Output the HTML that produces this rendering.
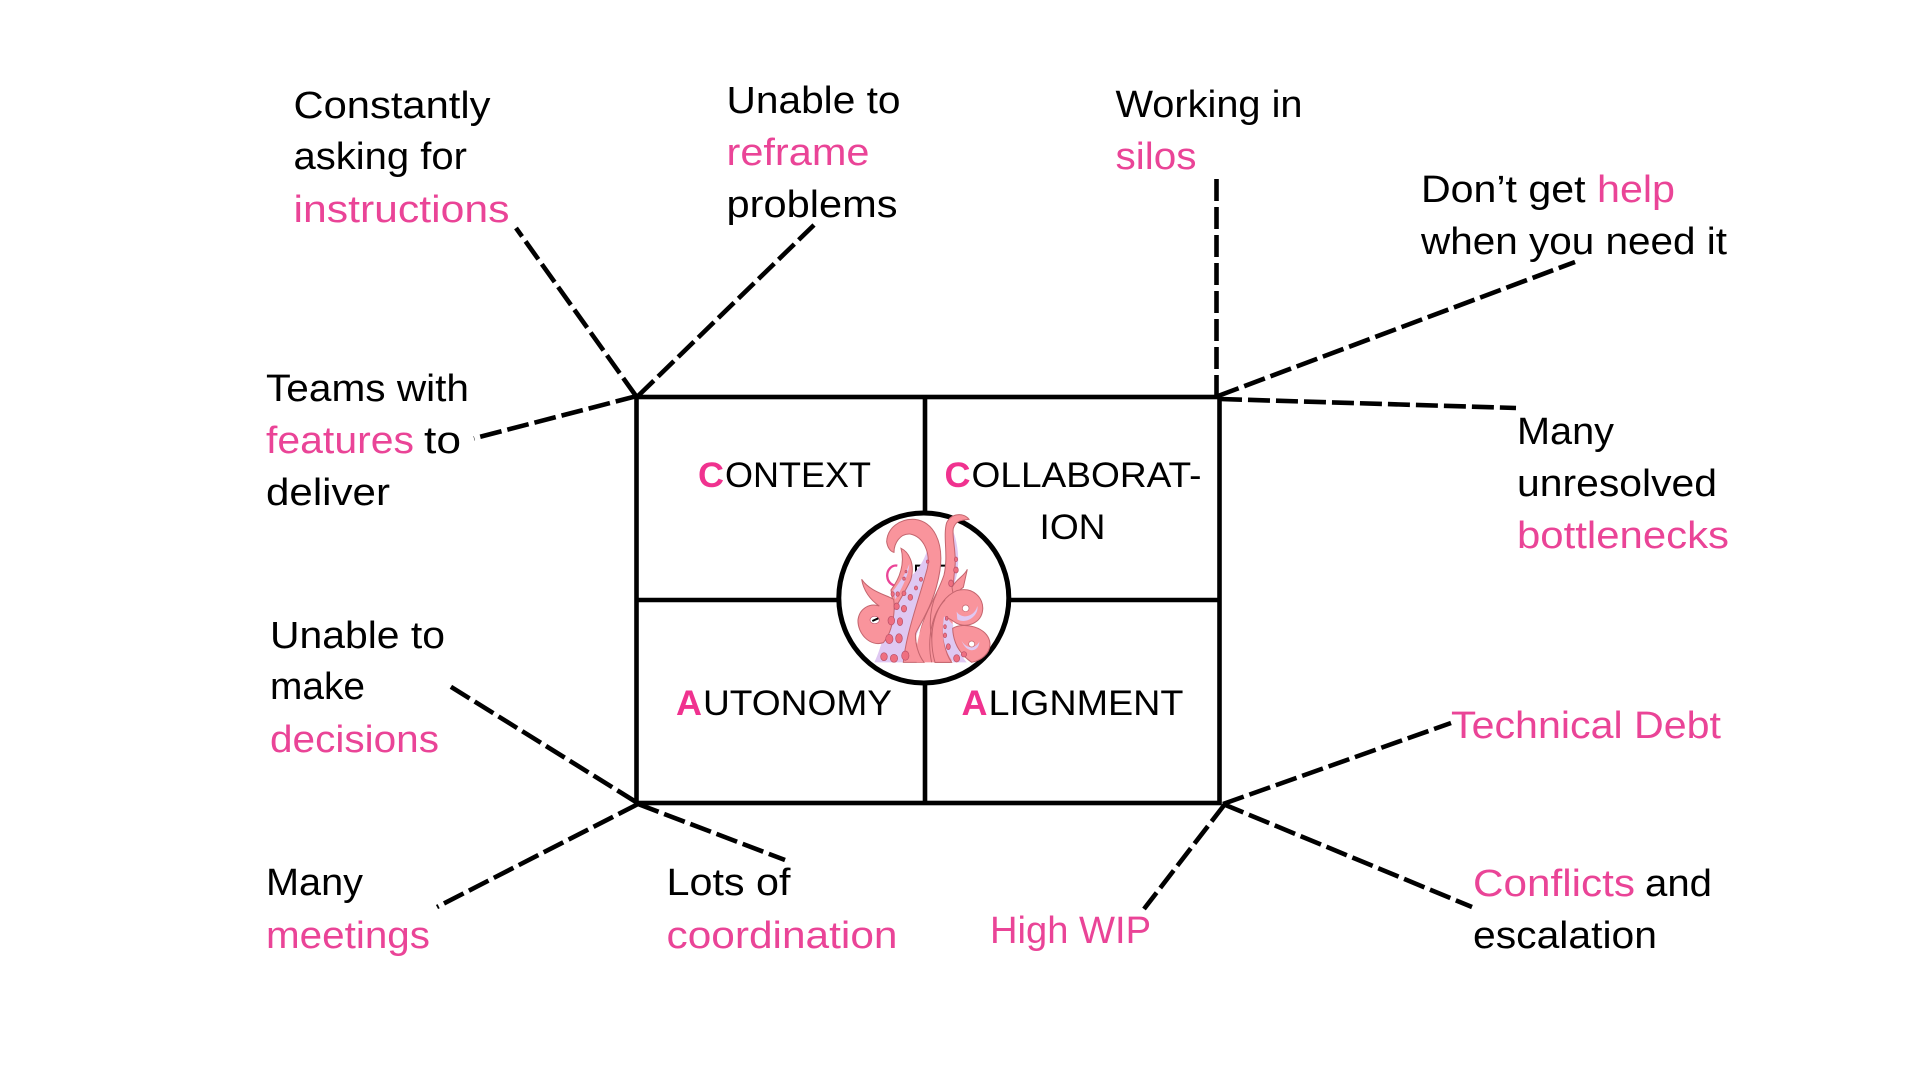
<!DOCTYPE html>
<html><head><meta charset="utf-8"><title>Diagram</title>
<style>
html,body{margin:0;padding:0;background:#fff;width:1920px;height:1080px;overflow:hidden}
svg{display:block}
text{font-family:"Liberation Sans",sans-serif;font-size:38px;fill:#000}
.p{fill:#ea4497}
.h{font-size:35px}
.b{font-size:35px;font-weight:bold;fill:#f0328f}
.d{stroke:#000;stroke-width:4.6;stroke-dasharray:22 6;fill:none}
.s{stroke:#000;stroke-width:4.6;fill:none}
.o{fill:#f9949c;stroke:#c4656e;stroke-width:3}
.l{fill:#dfc8f2;stroke:none}
.c{fill:#ef6f80;stroke:#b84f68;stroke-width:2}
.k{fill:none;stroke:#c4656e;stroke-width:3}
</style></head><body>
<svg width="1920" height="1080" viewBox="0 0 1920 1080" xmlns="http://www.w3.org/2000/svg">
<rect width="1920" height="1080" fill="#fff"/>

<!-- connectors -->
<path class="d" d="M636 396L516 228"/>
<path class="d" d="M638 396L814 225"/>
<path class="d" d="M637 396L474 438.4"/>
<path class="d" d="M1216.5 397L1216.5 177"/>
<path class="d" d="M1218 396L1575 262"/>
<path class="d" d="M1220 399L1516 408"/>
<path class="d" d="M636 802L448 685"/>
<path class="d" d="M638 804L437 907"/>
<path class="d" d="M638 804L785 860"/>
<path class="d" d="M1223 804L1451 723"/>
<path class="d" d="M1223 804L1472 907"/>
<path class="d" d="M1225 804L1144 909"/>

<!-- grid -->
<rect class="s" x="636.5" y="397" width="583" height="406"/>
<path class="s" d="M925 397V803M636.5 600H1219.5"/>

<!-- headings -->
<text class="b" x="698" y="487" textLength="26" lengthAdjust="spacingAndGlyphs">C</text>
<text class="h" x="725" y="487" textLength="146" lengthAdjust="spacingAndGlyphs">ONTEXT</text>
<text class="b" x="944.5" y="487" textLength="26" lengthAdjust="spacingAndGlyphs">C</text>
<text class="h" x="971.5" y="487" textLength="230" lengthAdjust="spacingAndGlyphs">OLLABORAT-</text>
<text class="h" x="1039.5" y="539" textLength="66" lengthAdjust="spacingAndGlyphs">ION</text>
<text class="b" x="676" y="715" textLength="26" lengthAdjust="spacingAndGlyphs">A</text>
<text class="h" x="703" y="715" textLength="189" lengthAdjust="spacingAndGlyphs">UTONOMY</text>
<text class="b" x="961.5" y="715" textLength="26" lengthAdjust="spacingAndGlyphs">A</text>
<text class="h" x="988.5" y="715" textLength="195" lengthAdjust="spacingAndGlyphs">LIGNMENT</text>

<!-- labels -->
<text x="293.5" y="118" textLength="197" lengthAdjust="spacingAndGlyphs">Constantly</text>
<text x="293.5" y="169" textLength="173.5" lengthAdjust="spacingAndGlyphs">asking for</text>
<text class="p" x="293.5" y="222" textLength="216" lengthAdjust="spacingAndGlyphs">instructions</text>
<text x="726.5" y="113" textLength="174" lengthAdjust="spacingAndGlyphs">Unable to</text>
<text class="p" x="726.5" y="165" textLength="143" lengthAdjust="spacingAndGlyphs">reframe</text>
<text x="726.5" y="217" textLength="171" lengthAdjust="spacingAndGlyphs">problems</text>
<text x="266" y="401" textLength="203" lengthAdjust="spacingAndGlyphs">Teams with</text>
<text class="p" x="266" y="453" textLength="148" lengthAdjust="spacingAndGlyphs">features</text>
<text x="424" y="453" textLength="37" lengthAdjust="spacingAndGlyphs">to</text>
<text x="266" y="505" textLength="124" lengthAdjust="spacingAndGlyphs">deliver</text>
<text x="1115.5" y="117" textLength="187" lengthAdjust="spacingAndGlyphs">Working in</text>
<text class="p" x="1115.5" y="169" textLength="81" lengthAdjust="spacingAndGlyphs">silos</text>
<text x="1421" y="202" textLength="164.5" lengthAdjust="spacingAndGlyphs">Don’t get</text>
<text class="p" x="1597" y="202" textLength="78" lengthAdjust="spacingAndGlyphs">help</text>
<text x="1421" y="254" textLength="306" lengthAdjust="spacingAndGlyphs">when you need it</text>
<text x="1517" y="444" textLength="97" lengthAdjust="spacingAndGlyphs">Many</text>
<text x="1517" y="496" textLength="200" lengthAdjust="spacingAndGlyphs">unresolved</text>
<text class="p" x="1517" y="548" textLength="212" lengthAdjust="spacingAndGlyphs">bottlenecks</text>
<text x="270" y="648" textLength="175" lengthAdjust="spacingAndGlyphs">Unable to</text>
<text x="270" y="699" textLength="95" lengthAdjust="spacingAndGlyphs">make</text>
<text class="p" x="270" y="752" textLength="169" lengthAdjust="spacingAndGlyphs">decisions</text>
<text x="266" y="895" textLength="97" lengthAdjust="spacingAndGlyphs">Many</text>
<text class="p" x="266" y="948" textLength="164" lengthAdjust="spacingAndGlyphs">meetings</text>
<text x="666.5" y="895" textLength="124" lengthAdjust="spacingAndGlyphs">Lots of</text>
<text class="p" x="666.5" y="948" textLength="231" lengthAdjust="spacingAndGlyphs">coordination</text>
<text class="p" x="1451" y="738" textLength="270" lengthAdjust="spacingAndGlyphs">Technical Debt</text>
<text class="p" x="1473" y="896" textLength="162" lengthAdjust="spacingAndGlyphs">Conflicts</text>
<text x="1645" y="896" textLength="67" lengthAdjust="spacingAndGlyphs">and</text>
<text x="1473" y="948" textLength="184" lengthAdjust="spacingAndGlyphs">escalation</text>
<text class="p" x="990" y="943" textLength="161" lengthAdjust="spacingAndGlyphs">High WIP</text>

<!-- centre circle -->
<circle cx="923.8" cy="598" r="85" fill="#fff" stroke="#000" stroke-width="5"/>
<g transform="translate(820,500) scale(.3333)">
  <path d="M232 197a26 30 0 1 0 4 58" fill="none" stroke="#ea4497" stroke-width="7"/>
  <path d="M285 197H375M288 197V235" fill="none" stroke="#000" stroke-width="6"/>
  <!-- lavender panel left -->
  <path class="l" d="M163 487C195 420 205 330 222 280C255 240 300 220 322 150L362 210C345 310 280 400 262 487Z"/>
  <path class="o" d="M243 145C265 155 287 190 272 240C258 270 240 300 222 330L213 270C240 235 255 190 243 145Z"/>
  <path class="l" d="M268 192C266 225 246 265 226 298L220 272C240 245 258 220 268 192Z"/>
  <!-- tall right arm -->
  <path class="l" d="M398 90C415 130 420 190 408 235L395 275L372 250Z"/>
  <path class="o" d="M447 58C432 38 395 38 380 68C368 110 386 165 372 225C350 290 312 340 300 400L345 487H390L400 270C400 240 402 230 405 200C410 160 395 110 400 85C408 60 428 60 447 58Z"/>
  <path class="o" d="M442 208C432 230 410 235 396 262L400 285L430 262Z"/>
  <!-- main arm -->
  <path class="o" d="M250 487C258 400 298 295 322 205C332 160 312 110 270 102C240 100 222 130 222 157C210 155 202 140 200 125C202 85 238 55 285 58C340 65 372 125 360 210C345 310 300 370 287 400C285 430 295 465 312 487Z"/>
  <!-- body -->
  <path d="M290 487C280 420 320 330 370 250L400 290L395 487Z" fill="#f9949c"/>
  <path class="k" d="M287 400C285 430 295 465 312 487M350 280C322 340 322 430 370 487"/>
  <!-- left curl -->
  <path class="o" d="M125 238C150 275 200 285 221 298C227 340 215 400 190 428C150 442 112 400 114 360C118 325 150 308 178 318C150 300 130 270 125 238Z"/>
  <ellipse cx="164" cy="360" rx="14" ry="11" fill="#fff" stroke="#b84f68" stroke-width="2"/>
  <path d="M157 363L175 355" stroke="#000" stroke-width="6"/>
  <!-- right curls -->
  <path class="o" d="M345 487C320 400 345 300 410 272C460 258 492 295 488 330C484 370 440 385 410 370C390 358 378 345 372 360C365 410 375 460 395 487Z"/>
  <path class="l" d="M410 335C425 360 465 350 472 318C478 345 440 375 412 358Z"/>
  <path class="k" d="M335 487C320 420 335 340 375 300"/>
  <circle cx="437" cy="325" r="10" fill="#fff" stroke="#c4656e" stroke-width="2"/>
  <path class="l" d="M372 350C362 410 375 455 400 487H440C410 450 395 410 400 375C390 365 380 350 372 350Z"/>
  <path class="o" d="M398 385C430 365 505 380 510 430C512 462 480 482 455 487C430 470 400 440 398 385Z"/>
  <path class="l" d="M424 420C435 445 465 450 478 425C478 455 440 465 424 420Z"/>
  <circle cx="455" cy="432" r="9" fill="#fff" stroke="#c4656e" stroke-width="2"/>
  <!-- suckers -->
  <g>
    <ellipse class="c" cx="192" cy="470" rx="10" ry="12"/><ellipse class="c" cx="222" cy="475" rx="11" ry="12"/><ellipse class="c" cx="256" cy="467" rx="11" ry="14"/>
    <ellipse class="c" cx="208" cy="417" rx="11" ry="14"/><ellipse class="c" cx="237" cy="415" rx="10" ry="14"/>
    <ellipse class="c" cx="214" cy="362" rx="10" ry="13"/><ellipse class="c" cx="240" cy="365" rx="8" ry="12"/>
    <ellipse class="c" cx="230" cy="319" rx="8" ry="10"/><ellipse class="c" cx="252" cy="326" rx="8" ry="10"/>
    <ellipse class="c" cx="271" cy="292" rx="7" ry="9"/><ellipse class="c" cx="288" cy="264" rx="5" ry="6"/>
    <ellipse class="c" cx="303" cy="238" rx="5" ry="6"/><ellipse class="c" cx="323" cy="185" rx="4" ry="5"/>
    <ellipse class="c" cx="218" cy="282" rx="5" ry="7"/><ellipse class="c" cx="233" cy="282" rx="5" ry="7"/><ellipse class="c" cx="252" cy="280" rx="6" ry="7"/>
    <ellipse class="c" cx="252" cy="236" rx="4" ry="5"/><ellipse class="c" cx="258" cy="215" rx="3" ry="4"/>
    <ellipse class="c" cx="408" cy="178" rx="5" ry="7"/><ellipse class="c" cx="408" cy="210" rx="7" ry="9"/><ellipse class="c" cx="393" cy="250" rx="7" ry="10"/>
    <ellipse class="c" cx="380" cy="355" rx="4" ry="6"/><ellipse class="c" cx="375" cy="380" rx="4" ry="6"/><ellipse class="c" cx="375" cy="406" rx="5" ry="7"/>
    <ellipse class="c" cx="385" cy="440" rx="6" ry="9"/><ellipse class="c" cx="410" cy="475" rx="9" ry="11"/><ellipse class="c" cx="432" cy="463" rx="8" ry="8"/>
  </g>
</g>
</svg>
</body></html>
